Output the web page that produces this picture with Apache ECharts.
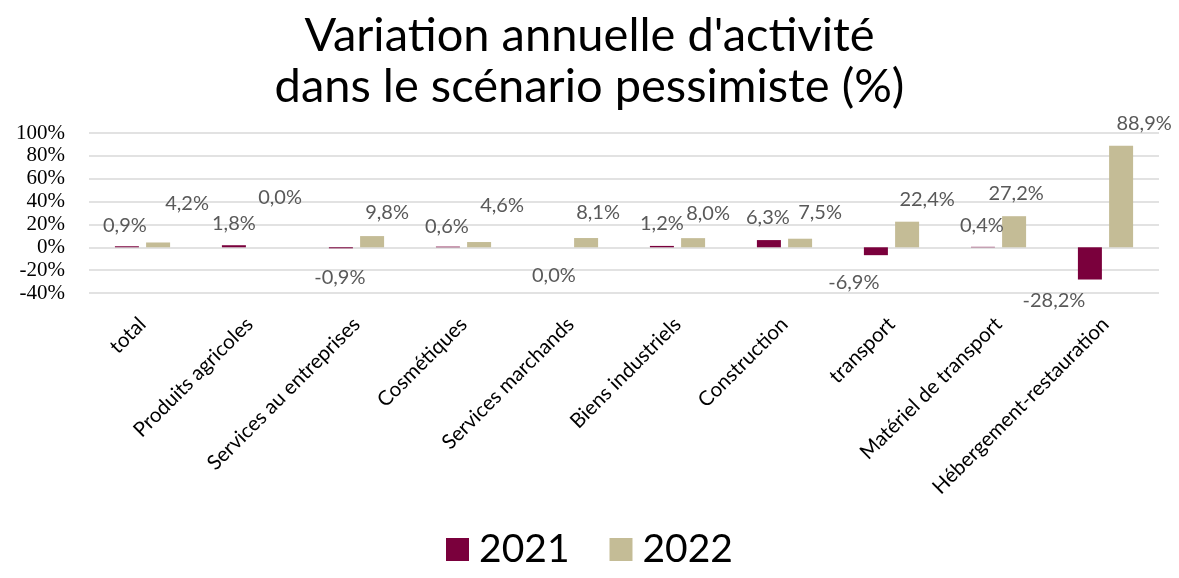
<!DOCTYPE html>
<html>
<head>
<meta charset="utf-8">
<script src="https://cdn.jsdelivr.net/npm/echarts@6/dist/echarts.min.js"></script>
<style>html,body{margin:0;padding:0;background:#fff}#chart{width:1179px;height:578px}</style>
</head>
<body>
<div id="chart"></div>
<script>
const categories = ['total', 'Produits agricoles', 'Services au entreprises', 'Cosmétiques', 'Services marchands', 'Biens industriels', 'Construction', 'transport', 'Matériel de transport', 'Hébergement-restauration'];
const values2021 = [0.9, 1.8, -0.9, 0.6, 0.0, 1.2, 6.3, -6.9, 0.4, -28.2];
const values2022 = [4.2, 0.0, 9.8, 4.6, 8.1, 8.0, 7.5, 22.4, 27.2, 88.9];
const seriesNames = ['2021', '2022'];
const yTicks = { min: -40, max: 100, interval: 20 };

// label placement (style): position and [dx, dy] nudges, as in the source
const labelPos2021 = ['top', 'top', 'bottom', 'top', 'bottom', 'top', 'top', 'bottom', 'top', 'bottom'];
const labelNudge2021 = [[-2, -11], [0, -12], [-1, 19], [-1, -10], [-1, 18], [0, -12], [-1, -13], [-22, 17], [-1, -11], [-36, 11]];
const labelNudge2022 = [[29, -29], [15, -40], [15, -14], [23, -26], [12, -15], [15, -15], [20, -16], [20, -12], [2, -13], [23, -12]];

const FONT = 'Lato';
const fmt = v => v.toFixed(1).replace('.', ',') + '%';

function buildData(vals, positions, nudges) {
  return vals.map((v, i) => ({
    value: v,
    label: { position: positions ? positions[i] : 'top', offset: nudges[i] }
  }));
}

const chart = echarts.init(document.getElementById('chart'), null, { renderer: 'canvas' });
const labelStyle = {
  show: true,
  distance: 0,
  color: '#595959',
  fontFamily: FONT,
  fontSize: 20,
  lineHeight: 20,
  formatter: p => fmt(p.value)
};
chart.setOption({
  animation: false,
  backgroundColor: '#ffffff',
  title: {
    text: "Variation annuelle d'activité\ndans le scénario pessimiste (%)",
    left: 'center',
    top: 5,
    textStyle: { fontFamily: FONT, fontSize: 47, fontWeight: 'normal', color: '#000', lineHeight: 51 }
  },
  legend: {
    bottom: 4,
    left: 'center',
    icon: 'rect',
    itemWidth: 23,
    itemHeight: 23,
    itemGap: 40,
    textStyle: { fontFamily: FONT, fontSize: 39, color: '#000', padding: [0, 0, 0, 5] },
    data: seriesNames
  },
  grid: { left: 89, right: 20, top: 133, bottom: 285, containLabel: false },
  xAxis: {
    type: 'category',
    data: categories,
    axisLine: { show: false, onZero: false },
    axisTick: { show: false },
    axisLabel: { rotate: 45, interval: 0, margin: 28, fontFamily: FONT, fontSize: 20.5, color: '#000' }
  },
  yAxis: {
    type: 'value',
    min: yTicks.min,
    max: yTicks.max,
    interval: yTicks.interval,
    axisLine: { show: false },
    axisTick: { show: false },
    axisLabel: { formatter: '{value}%', fontFamily: 'Liberation Serif', fontSize: 21, color: '#000', margin: 24 },
    splitLine: { lineStyle: { color: '#d9d9d9', width: 1.5 } }
  },
  series: [
    {
      name: seriesNames[0], type: 'bar', barWidth: 24, barGap: '30%',
      itemStyle: { color: '#7a003c' },
      label: labelStyle,
      data: buildData(values2021, labelPos2021, labelNudge2021)
    },
    {
      name: seriesNames[1], type: 'bar', barWidth: 24, barGap: '30%',
      itemStyle: { color: '#c4bc96' },
      label: labelStyle,
      data: buildData(values2022, null, labelNudge2022)
    }
  ]
});
</script>
</body>
</html>
